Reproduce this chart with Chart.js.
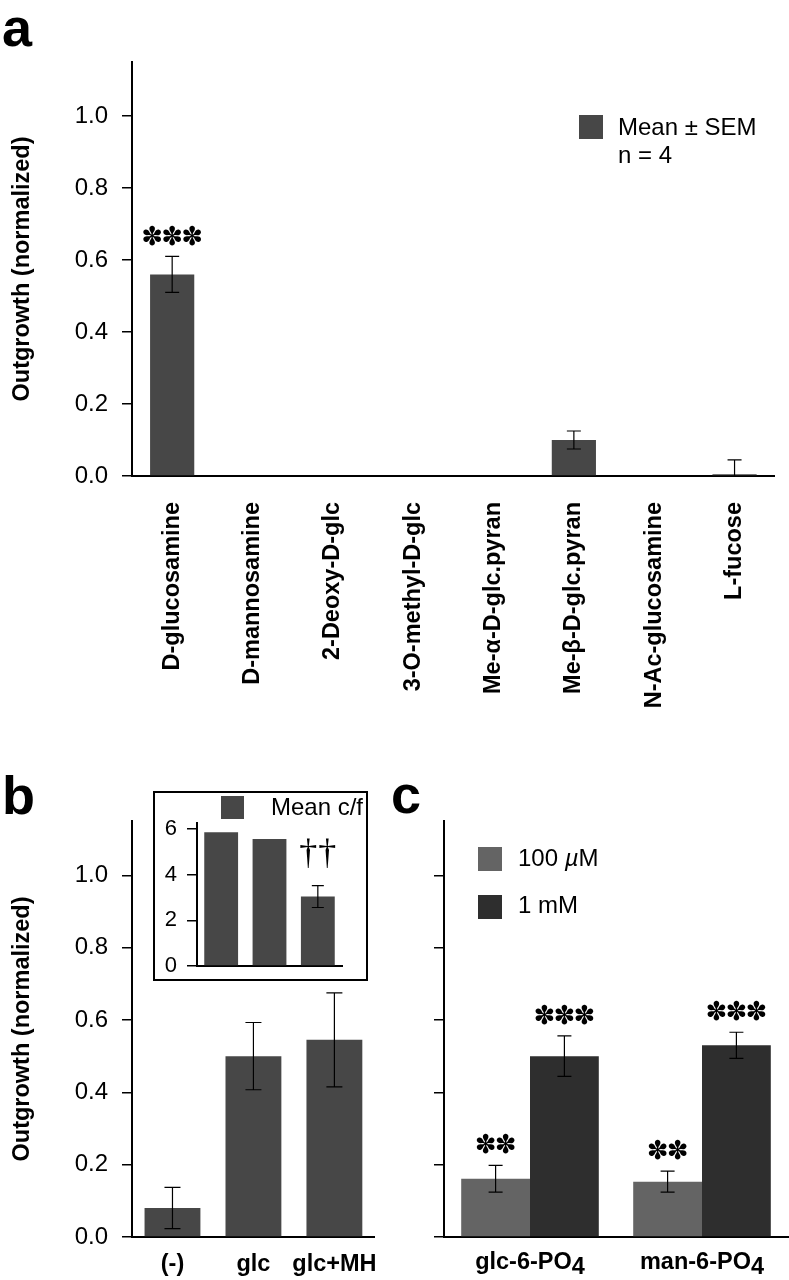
<!DOCTYPE html>
<html>
<head>
<meta charset="utf-8">
<script src="https://cdn.jsdelivr.net/npm/chart.js@4/dist/chart.umd.min.js"></script>
<style>
  body { margin: 0; background: #fff; }
  #wrap { position: relative; width: 789px; height: 1280px; overflow: hidden; font-family: "Liberation Sans", Arial, sans-serif; color: #000; }
  canvas, .abs { position: absolute; }
  .letter { font-weight: bold; font-size: 54px; line-height: 1; }
  .leg { font-size: 24px; line-height: 1; white-space: nowrap; }
  .sw { width: 24px; height: 24px; }
  #insetBox { left: 153px; top: 791px; width: 215px; height: 190px; border: 2px solid #000; box-sizing: border-box; background: #fff; }
</style>
</head>
<body>
<div id="wrap">
  <canvas id="chartA" width="789" height="740" style="left:0;top:0"></canvas>
  <canvas id="chartB" width="390" height="500" style="left:0;top:780px"></canvas>
  <canvas id="chartC" width="399" height="500" style="left:390px;top:780px"></canvas>
  <div id="insetBox" class="abs"><canvas id="chartInset" width="211" height="186" style="left:0;top:0"></canvas></div>

  <div class="abs letter" style="left:2px;top:0px">a</div>
  <div class="abs letter" style="left:2px;top:768px">b</div>
  <div class="abs letter" style="left:391px;top:767px">c</div>

  <div class="abs sw" style="left:579px;top:115px;background:#474747"></div>
  <div class="abs leg" style="left:618px;top:115px">Mean ± SEM</div>
  <div class="abs leg" style="left:618px;top:143px">n = 4</div>

  <div class="abs sw" style="left:221px;top:796px;width:23px;height:23px;background:#474747"></div>
  <div class="abs leg" style="left:271px;top:795px">Mean c/f</div>

  <div class="abs sw" style="left:478px;top:847px;background:#646464"></div>
  <div class="abs leg" style="left:518px;top:846px">100 <i>µ</i>M</div>
  <div class="abs sw" style="left:478px;top:895px;background:#2e2e2e"></div>
  <div class="abs leg" style="left:518px;top:893px">1 mM</div>
</div>
<script>
// panel a: sugar analogues
const A_LABELS = ["D-glucosamine", "D-mannosamine", "2-Deoxy-D-glc", "3-O-methyl-D-glc",
  "Me-α-D-glc.pyran", "Me-β-D-glc.pyran", "N-Ac-glucosamine", "L-fucose"];
const A_MEAN = [0.56, 0, 0, 0, 0, 0.10, 0, 0.005];
const A_SEM = [0.05, 0, 0, 0, 0, 0.025, 0, 0.04];
const A_MARKS = ["***", "", "", "", "", "", "", ""];

// panel b + inset
const B_LABELS = ["(-)", "glc", "glc+MH"];
const B_MEAN = [0.08, 0.50, 0.545];
const B_SEM = [0.057, 0.093, 0.13];
const INSET_MEAN = [5.86, 5.56, 3.04];
const INSET_SEM = [0, 0, 0.48];
const INSET_MARKS = ["", "", "††"];

// panel c: phosphorylated sugars
const C_LABELS = ["glc-6-PO", "man-6-PO"];
const C_SUB = "4";
const C_LOW_MEAN = [0.161, 0.153];
const C_LOW_SEM = [0.037, 0.029];
const C_HIGH_MEAN = [0.50, 0.53];
const C_HIGH_SEM = [0.056, 0.036];
const C_LOW_MARKS = ["**", "**"];
const C_HIGH_MARKS = ["***", "***"];

const Y_MAX = 1.15;
const INSET_Y_MAX = 6.26;
const FONT = "'Liberation Sans', Arial, sans-serif";
const BAR = "#474747";
const STAR_FONT = `26px 'DejaVu Sans'`;

/* error bars + significance marks, drawn from the bar elements and y scale */
const errorBars = {
  id: "errorBars",
  afterDatasetsDraw(chart, args, o) {
    const { ctx, chartArea: ca } = chart;
    const y = chart.scales.y;
    chart.data.datasets.forEach((ds, di) => {
      chart.getDatasetMeta(di).data.forEach((bar, i) => {
        const sem = ds.sem ? ds.sem[i] : 0;
        const top = y.getPixelForValue(ds.data[i] + sem);
        if (sem) {
          const lo = y.getPixelForValue(ds.data[i] - sem);
          ctx.save();
          ctx.beginPath();
          ctx.rect(ca.left, ca.top, ca.right - ca.left, ca.bottom - ca.top);
          ctx.clip();
          ctx.strokeStyle = "#000";
          ctx.lineWidth = 1.2;
          ctx.beginPath();
          ctx.moveTo(bar.x, lo); ctx.lineTo(bar.x, top);
          ctx.moveTo(bar.x - o.cap / 2, top); ctx.lineTo(bar.x + o.cap / 2, top);
          ctx.moveTo(bar.x - o.cap / 2, lo); ctx.lineTo(bar.x + o.cap / 2, lo);
          ctx.stroke();
          ctx.restore();
        }
        const m = ds.marks ? ds.marks[i] : "";
        if (m) {
          ctx.save();
          ctx.fillStyle = "#000";
          ctx.font = o.markFont;
          ctx.textAlign = "center";
          ctx.textBaseline = "middle";
          const chars = [...m];
          chars.forEach((c, k) => {
            const glyph = c === "*" ? "✽" : c;
            ctx.fillText(glyph, bar.x + (k - (chars.length - 1) / 2) * o.markStep, top - o.markGap);
          });
          ctx.restore();
        }
      });
    });
  },
};

function yAxis(width, max, step, opts = {}) {
  return {
    min: 0, max,
    afterFit: s => { s.width = width; s.paddingTop = 0; s.paddingBottom = 0; },
    border: { display: true, color: "#000", width: 2 },
    grid: { drawOnChartArea: false, drawTicks: true, tickLength: 10, color: "#000", lineWidth: 1.5 },
    ticks: {
      stepSize: step, includeBounds: false, padding: opts.pad ?? 14, color: "#000",
      display: opts.labels !== false,
      font: { family: FONT, size: opts.size || 24 },
      callback: opts.fmt || (v => v.toFixed(1)),
    },
    title: opts.title ? {
      display: true, text: "Outgrowth (normalized)", color: "#000",
      font: { family: FONT, size: 23.5, weight: "bold" }, padding: { top: 8, bottom: 0 },
    } : { display: false },
  };
}

function xAxis(height, opts = {}) {
  return {
    afterFit: s => { s.height = height; },
    border: { display: true, color: "#000", width: 2 },
    grid: { display: false, drawTicks: false },
    ticks: {
      display: opts.labels !== false, autoSkip: false, color: "#000",
      minRotation: opts.rot || 0, maxRotation: opts.rot || 0, padding: opts.pad || 0,
      font: { family: FONT, size: 23.5, weight: "bold" },
    },
  };
}

const base = { responsive: false, animation: false, events: [],
  plugins: { legend: { display: false }, tooltip: { enabled: false } } };

/* ---------- panel a ---------- */
new Chart(document.getElementById("chartA"), {
  type: "bar",
  data: { labels: A_LABELS, datasets: [{ data: A_MEAN, sem: A_SEM, marks: A_MARKS,
    backgroundColor: BAR, borderWidth: 0, categoryPercentage: 1, barPercentage: 0.55 }] },
  options: { ...base,
    layout: { padding: { top: 62, right: 4, left: 0, bottom: 0 } },
    plugins: { ...base.plugins, errorBars: { cap: 14, markGap: 18, markStep: 20, markFont: STAR_FONT } },
    scales: { x: xAxis(264, { rot: 90, pad: 26 }), y: yAxis(132, Y_MAX, 0.2, { title: true }) },
  },
  plugins: [errorBars],
});

/* ---------- panel b ---------- */
new Chart(document.getElementById("chartB"), {
  type: "bar",
  data: { labels: B_LABELS, datasets: [{ data: B_MEAN, sem: B_SEM,
    backgroundColor: BAR, borderWidth: 0, categoryPercentage: 1, barPercentage: 0.69 }] },
  options: { ...base,
    layout: { padding: { top: 41, right: 3, left: 0, bottom: 0 } },
    plugins: { ...base.plugins, errorBars: { cap: 16, markGap: 19, markStep: 20, markFont: STAR_FONT } },
    scales: { x: xAxis(43, { pad: 13 }), y: yAxis(132, Y_MAX, 0.2, { title: true }) },
  },
  plugins: [errorBars],
});

/* ---------- inset (mean c/f) ---------- */
new Chart(document.getElementById("chartInset"), {
  type: "bar",
  data: { labels: B_LABELS, datasets: [{ data: INSET_MEAN, sem: INSET_SEM, marks: INSET_MARKS,
    backgroundColor: BAR, borderWidth: 0, categoryPercentage: 1, barPercentage: 0.7 }] },
  options: { ...base,
    layout: { padding: { top: 30, right: 24, left: 0, bottom: 0 } },
    plugins: { ...base.plugins, errorBars: { cap: 12, markGap: 31, markStep: 19, markFont: `36px 'Liberation Serif'` } },
    scales: { x: xAxis(13, { labels: false }),
      y: yAxis(42, INSET_Y_MAX, 2, { size: 22, pad: 10, fmt: v => String(v) }) },
  },
  plugins: [errorBars],
});

/* ---------- panel c ---------- */
const subLabels = {
  id: "subLabels",
  afterDraw(chart) {
    const { ctx } = chart;
    const x = chart.scales.x;
    const yy = chart.chartArea.bottom + 26;
    ctx.save();
    ctx.fillStyle = "#000";
    ctx.textBaseline = "middle";
    ctx.textAlign = "left";
    ctx.font = `bold 23.5px ${FONT}`;
    C_LABELS.forEach((lab, i) => {
      const w1 = ctx.measureText(lab).width;
      const w2 = ctx.measureText(C_SUB).width;
      const left = x.getPixelForTick(i) - (w1 + w2) / 2;
      ctx.fillText(lab, left, yy);
      ctx.fillText(C_SUB, left + w1, yy + 5);
    });
    ctx.restore();
  },
};

new Chart(document.getElementById("chartC"), {
  type: "bar",
  data: { labels: C_LABELS, datasets: [
    { data: C_LOW_MEAN, sem: C_LOW_SEM, marks: C_LOW_MARKS, backgroundColor: "#646464",
      borderWidth: 0, categoryPercentage: 0.8, barPercentage: 1 },
    { data: C_HIGH_MEAN, sem: C_HIGH_SEM, marks: C_HIGH_MARKS, backgroundColor: "#2e2e2e",
      borderWidth: 0, categoryPercentage: 0.8, barPercentage: 1 },
  ] },
  options: { ...base,
    layout: { padding: { top: 41, right: 1, left: 0, bottom: 0 } },
    plugins: { ...base.plugins, errorBars: { cap: 14, markGap: 19, markStep: 20, markFont: STAR_FONT } },
    scales: { x: xAxis(43, { labels: false }), y: yAxis(54, Y_MAX, 0.2, { labels: false }) },
  },
  plugins: [errorBars, subLabels],
});
</script>
</body>
</html>
